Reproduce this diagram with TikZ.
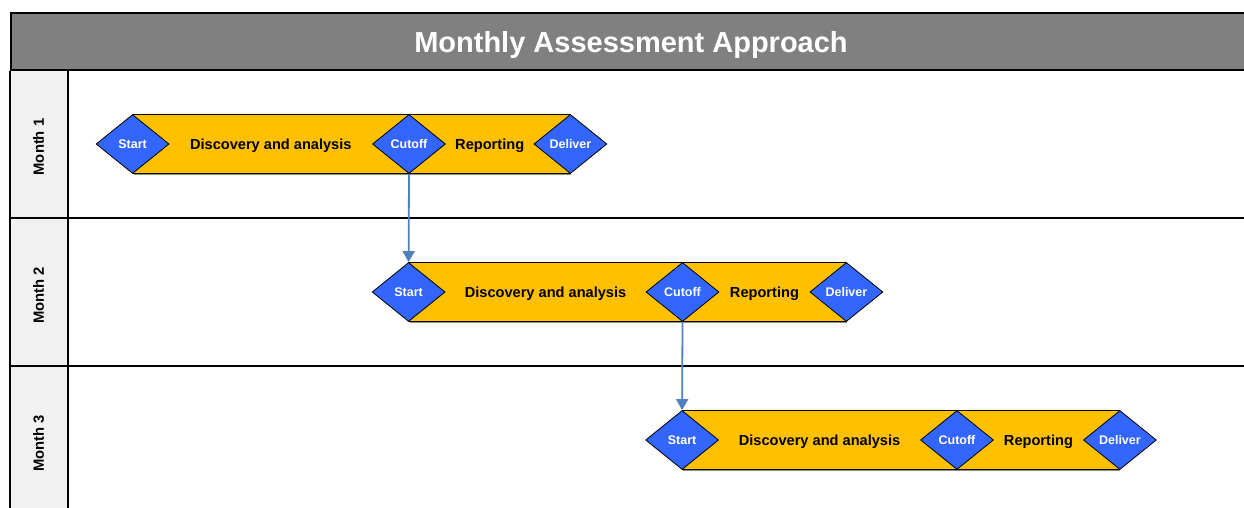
\documentclass[tikz,border=0pt]{standalone}
\usepackage{fontspec}
\setmainfont{Liberation Sans}
\usetikzlibrary{shapes.geometric,arrows.meta,shadows,calc}
\definecolor{titlegray}{HTML}{808080}
\definecolor{lanegray}{HTML}{F1F1F1}
\definecolor{milestoneblue}{HTML}{3366FF}
\definecolor{phaseyellow}{HTML}{FFC000}
\definecolor{linkblue}{HTML}{4F81BD}
\tikzset{
    titlebar/.style={rectangle, draw, line width=2.5pt, fill=titlegray, text=white, text depth=0pt,
      minimum width=1240pt, minimum height=57pt, font=\fontsize{29}{32}\selectfont\bfseries},
    lanelabel/.style={rotate=90, text depth=0pt, font=\fontsize{14.8}{16}\selectfont\bfseries},
    lane/.style={line width=1.6pt},
    phasebar/.style={rectangle, draw, line width=0.8pt, fill=phaseyellow, inner sep=0pt,
      minimum width=437pt, minimum height=59pt,
      drop shadow={shadow xshift=0.6pt, shadow yshift=-1.4pt, fill=black!45, opacity=1}},
    milestone/.style={diamond, draw, line width=0.8pt, fill=milestoneblue, inner sep=0pt, text depth=0pt,
      minimum width=73pt, minimum height=59pt, text=white, font=\fontsize{12.5}{14}\selectfont\bfseries},
    phase/.style={text depth=0pt, font=\fontsize{14.6}{16}\selectfont\bfseries},
    handoff/.style={-{Triangle[width=12pt,length=11pt]}, draw=linkblue, line width=1.8pt},
}

\begin{document}
\begin{tikzpicture}[x=1pt,y=-1pt]
\clip (0,0) rectangle (1244,508);

% swim lanes
\fill[lanegray] (10,71) rectangle (68,520);
\draw[lane] (10,71) -- (10,520);
\draw[lane] (68,71) -- (68,520);
\draw[lane] (10,218) -- (1260,218);
\draw[lane] (10,366) -- (1260,366);
\node[titlebar] (title) at (631,41.5) {Monthly Assessment Approach};

\node[lanelabel] (m1) at (38.5,147) {Month 1};
\node[lanelabel] (m2) at (38.5,295.5) {Month 2};
\node[lanelabel] (m3) at (38.5,443.5) {Month 3};

% month 1
\node[phasebar] (b1) at (351.5,144) {};
\node[milestone] (s1) at (b1.west) {Start};
\node[milestone] (c1) at (409,144) {Cutoff};
\node[milestone] (d1) at (b1.east) {Deliver};
\node[phase] (p1) at ($(s1)!0.5!(c1)$) {Discovery and analysis};
\node[phase] (r1) at ($(c1)!0.5!(d1)$) {Reporting};

% month 2
\node[phasebar] (b2) at (627.5,292) {};
\node[milestone] (s2) at (b2.west) {Start};
\node[milestone] (c2) at (682.5,292) {Cutoff};
\node[milestone] (d2) at (b2.east) {Deliver};
\node[phase] (p2) at ($(s2)!0.5!(c2)$) {Discovery and analysis};
\node[phase] (r2) at ($(c2)!0.5!(d2)$) {Reporting};

% month 3
\node[phasebar] (b3) at (901,440) {};
\node[milestone] (s3) at (b3.west) {Start};
\node[milestone] (c3) at (957,440) {Cutoff};
\node[milestone] (d3) at (b3.east) {Deliver};
\node[phase] (p3) at ($(s3)!0.5!(c3)$) {Discovery and analysis};
\node[phase] (r3) at ($(c3)!0.5!(d3)$) {Reporting};

\draw[handoff] (c1.south) -- (s2.north);
\draw[handoff] (c2.south) -- (s3.north);
\end{tikzpicture}
\end{document}
